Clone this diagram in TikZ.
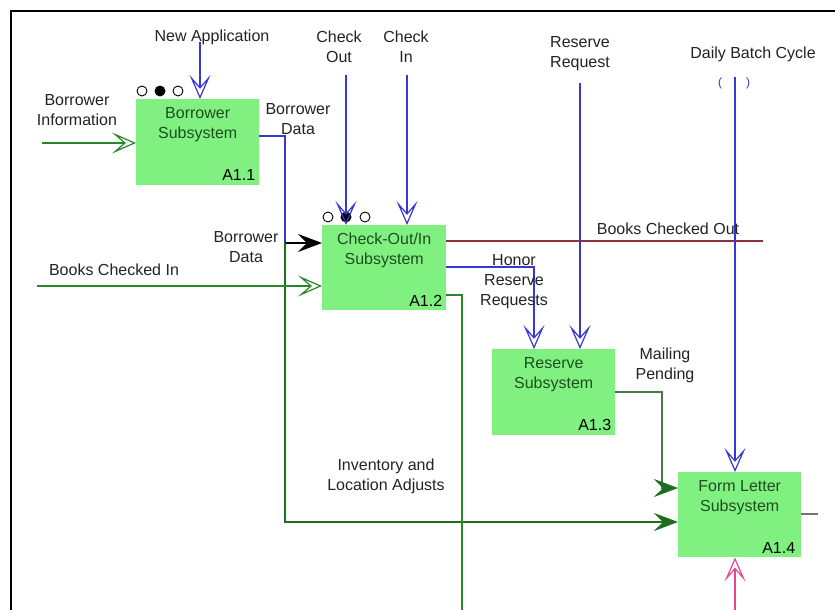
\documentclass[tikz,border=0pt]{standalone}
\usepackage{fontspec}
\setmainfont{Liberation Sans}
\usetikzlibrary{arrows.meta,calc}

\definecolor{boxfill}{RGB}{128,240,128}
\definecolor{boxtext}{RGB}{28,80,28}
\definecolor{ctrl}{RGB}{55,55,215}
\definecolor{flow}{RGB}{40,135,40}
\definecolor{flowdk}{RGB}{30,110,30}
\definecolor{graygreen}{RGB}{75,120,75}
\definecolor{outred}{RGB}{140,50,60}
\definecolor{mechpink}{RGB}{230,70,140}
\definecolor{graybrown}{RGB}{130,110,110}
\definecolor{labeltext}{RGB}{35,35,35}

\tikzset{
  openhd/.tip={Stealth[open,length=24pt,width=21pt,inset=12pt,line width=1.2pt]},
  fillhd/.tip={Stealth[length=24pt,width=18pt,inset=9pt]},
}

\begin{document}
\begin{tikzpicture}[x=1pt,y=-1pt,
  every node/.style={font=\fontsize{16}{20}\selectfont, inner sep=0pt},
  actbox/.style={fill=boxfill, draw=none, anchor=north west},
  acttitle/.style={text=boxtext, align=center},
  actid/.style={anchor=base east, text=black},
  lbl/.style={text=labeltext, align=center},
  wire/.style={line width=1.3pt},
  port/.style={circle, draw=black, line width=0.9pt, minimum size=10pt, fill=white},
  portfill/.style={port, fill=black},
]
\useasboundingbox (0,0) rectangle (835,610);
\fill[white] (0,0) rectangle (835,610);

% page frame
\draw[line width=1.5pt] (11,610) -- (11,11) -- (835,11);

% activity boxes
\node[actbox, minimum width=123pt, minimum height=86pt] (b1) at (136,99) {};
\node[actbox, minimum width=124pt, minimum height=85pt] (b2) at (322,225) {};
\node[actbox, minimum width=123pt, minimum height=86pt] (b3) at (492,349) {};
\node[actbox, minimum width=123pt, minimum height=85pt] (b4) at (678,472) {};

\node[acttitle] (b1t) at ($(b1.north)+(0,25.5)$) {Borrower\\Subsystem};
\node[acttitle] (b2t) at ($(b2.north)+(0,25)$) {Check-Out/In\\Subsystem};
\node[acttitle] (b3t) at ($(b3.north)+(0,25.5)$) {Reserve\\Subsystem};
\node[acttitle] (b4t) at ($(b4.north)+(0,25.5)$) {Form Letter\\Subsystem};

\node[actid] (b1id) at ($(b1.south east)+(-4,-4.5)$) {A1.1};
\node[actid] (b2id) at ($(b2.south east)+(-4,-3.5)$) {A1.2};
\node[actid] (b3id) at ($(b3.south east)+(-4,-4.5)$) {A1.3};
\node[actid] (b4id) at ($(b4.south east)+(-6,-3.5)$) {A1.4};

% tunnel / status circles
\node[port] (p11) at (142,91) {};
\node[portfill] (p12) at (160,91) {};
\node[port] (p13) at (178,91) {};
\node[port] (p21) at (328,217) {};
\node[portfill] (p22) at (346,217) {};
\node[port] (p23) at (365,217) {};

% free ends of the connectors
\coordinate (naS) at (200,42);
\coordinate (biS) at (42,143);
\coordinate (bdA) at (285,136);
\coordinate (bdB) at (285,243);
\coordinate (bdC) at (285,522);
\coordinate (coS) at (346,75);
\coordinate (ciS) at (407,75);
\coordinate (bciS) at (37,286);
\coordinate (bcoE) at (763,241);
\coordinate (hrA) at (534,267);
\coordinate (ilA) at (462,295);
\coordinate (ilE) at (462,610);
\coordinate (rrS) at (580,83);
\coordinate (mpA) at (662,392);
\coordinate (mpB) at (662,488);
\coordinate (dbS) at (735,77);
\coordinate (foE) at (818,514);
\coordinate (pkS) at (735,610);

% connectors
\draw[wire,ctrl,-openhd] (naS) -- (naS |- b1.north);
\draw[wire,flow,-openhd] (biS) -- (biS -| b1.west);
\draw[wire,ctrl] (b1.east |- bdA) -- (bdA) -- (bdB);
\draw[wire,black,-fillhd] (bdB) -- (bdB -| b2.west);
\draw[wire,flowdk,-fillhd] (bdB) -- (bdC) -- (bdC -| b4.west);
\draw[wire,ctrl,-openhd] (coS) -- (coS |- b2.north);
\draw[wire,ctrl,-openhd] (ciS) -- (ciS |- b2.north);
\draw[wire,flow,-openhd] (bciS) -- (bciS -| b2.west);
\draw[wire,outred] (bcoE -| b2.east) -- (bcoE);
\draw[wire,ctrl,-openhd] (hrA -| b2.east) -- (hrA) -- (hrA |- b3.north);
\draw[wire,flow] (ilA -| b2.east) -- (ilA) -- (ilE);
\draw[wire,ctrl,-openhd] (rrS) -- (rrS |- b3.north);
\draw[wire,graygreen,-{Stealth[length=24pt,width=18pt,inset=9pt,color=flowdk]}]
  (mpA -| b3.east) -- (mpA) -- (mpB) -- (mpB -| b4.west);
\draw[wire,ctrl,-openhd] (dbS) -- (dbS |- b4.north);
\draw[wire,graybrown] (foE -| b4.east) -- (foE);
\draw[wire,mechpink,-openhd] (pkS) -- (pkS |- b4.south);

% connector labels
\node[lbl] (lna) at (212,37.5) {New Application};
\node[lbl] (lbi) at (77,110.5) {Borrower\\Information};
\node[lbl] (lbd1) at (298,119) {Borrower\\Data};
\node[lbl] (lco) at (339,47) {Check\\Out};
\node[lbl] (lci) at (406,47) {Check\\In};
\node[lbl] (lbd2) at (246,247) {Borrower\\Data};
\node[lbl] (lbci) at (114,269.5) {Books Checked In};
\node[lbl] (lbco) at (668,228.5) {Books Checked Out};
\node[lbl] (lhr) at (514,282) {Honor\\Reserve\\Requests};
\node[lbl] (lrr) at (580,54) {Reserve\\Request};
\node[lbl] (ldb) at (753,54.5) {Daily Batch Cycle};
\node[lbl] (lmp) at (665,365) {Mailing\\Pending};
\node[lbl] (lil) at (386,476) {Inventory and\\Location Adjusts};
\node[text=ctrl, font=\fontsize{12}{14}\selectfont] (pl) at (720,83) {(};
\node[text=ctrl, font=\fontsize{12}{14}\selectfont] (pr) at (748,83) {)};
\end{tikzpicture}
\end{document}
